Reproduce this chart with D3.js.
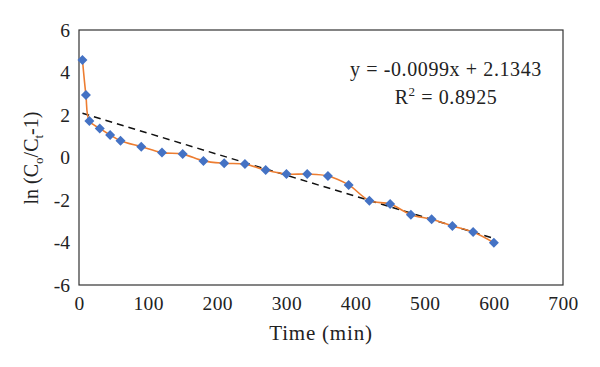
<!DOCTYPE html>
<html><head><meta charset="utf-8">
<script src="https://cdn.jsdelivr.net/npm/d3@7"></script>
<style>html,body{margin:0;padding:0;background:#fff;} svg{display:block;} text{font-family:"Liberation Serif","DejaVu Serif",serif;fill:#222;}</style>
</head><body>
<svg id="c" width="600" height="367"></svg>
<script>
const times = [5,10,15,30,45,60,90,120,150,180,210,240,270,300,330,360,390,420,450,480,510,540,570,600];
const lnValues = [4.59,2.94,1.72,1.37,1.06,0.79,0.51,0.23,0.16,-0.16,-0.27,-0.31,-0.59,-0.78,-0.78,-0.87,-1.29,-2.03,-2.19,-2.69,-2.91,-3.22,-3.51,-4.01];
const xTicks = [0,100,200,300,400,500,600,700];
const yTicks = [-6,-4,-2,0,2,4,6];
const slope = -0.0099, intercept = 2.1343;
const eqLabel = "y = -0.0099x + 2.1343";
const r2Value = "0.8925";

const svg = d3.select("#c");
const x = d3.scaleLinear().domain([0,700]).range([79,563]);
const y = d3.scaleLinear().domain([-6,6]).range([285,30]);

svg.append("rect").attr("x",79).attr("y",30).attr("width",563-79).attr("height",285-30)
  .attr("fill","none").attr("stroke","#333").attr("stroke-width",1.2);

const fmt = d => String(d);
const xAxis = d3.axisBottom(x).tickValues(xTicks).tickSize(0).tickPadding(11).tickFormat(fmt);
const gx = svg.append("g").attr("transform","translate(0,285)").call(xAxis);
gx.select(".domain").remove();
gx.selectAll("text").attr("font-size",19.5).attr("font-family","Liberation Serif").attr("fill","#222").attr("letter-spacing",0.4);

const yAxis = d3.axisLeft(y).tickValues(yTicks).tickSize(0).tickPadding(9).tickFormat(fmt);
const gy = svg.append("g").attr("transform","translate(79,0)").call(yAxis);
gy.select(".domain").remove();
gy.selectAll("text").attr("font-size",19.5).attr("font-family","Liberation Serif").attr("fill","#222");

const data = times.map((t,i)=>({t, v: lnValues[i]}));

const tMin = d3.min(times), tMax = d3.max(times);
svg.append("line")
  .attr("x1",x(tMin)).attr("y1",y(slope*tMin+intercept))
  .attr("x2",x(tMax)).attr("y2",y(slope*tMax+intercept))
  .attr("stroke","#111").attr("stroke-width",1.5).attr("stroke-dasharray","7,5");

const line = d3.line().x(d=>x(d.t)).y(d=>y(d.v)).curve(d3.curveCatmullRom.alpha(0.5));
svg.append("path").datum(data).attr("d",line).attr("fill","none")
  .attr("stroke","#ED7D31").attr("stroke-width",1.6);

svg.selectAll(".m").data(data).join("path").attr("class","m")
  .attr("d", d3.symbol().type(d3.symbolSquare).size(50))
  .attr("transform",d=>`translate(${x(d.t)},${y(d.v)}) rotate(45)`)
  .attr("fill","#4472C4");

svg.append("text").attr("x",446).attr("y",76).attr("text-anchor","middle").attr("font-size",20).attr("letter-spacing",0.6).text(eqLabel);
const r2 = svg.append("text").attr("x",446).attr("y",104).attr("text-anchor","middle").attr("font-size",20).attr("letter-spacing",0.6);
r2.append("tspan").text("R");
r2.append("tspan").attr("dy",-8).attr("font-size",13).text("2");
r2.append("tspan").attr("dy",8).text(" = " + r2Value);

svg.append("text").attr("x",321).attr("y",340).attr("text-anchor","middle").attr("font-size",21).attr("letter-spacing",0.8).text("Time (min)");
const yt = svg.append("text").attr("transform","translate(38,158) rotate(-90)").attr("text-anchor","middle").attr("font-size",20);
yt.append("tspan").text("ln (C");
yt.append("tspan").attr("dy",5).attr("font-size",13).text("o");
yt.append("tspan").attr("dy",-5).text("/C");
yt.append("tspan").attr("dy",5).attr("font-size",13).text("t");
yt.append("tspan").attr("dy",-5).text("-1)");
</script>
</body></html>
